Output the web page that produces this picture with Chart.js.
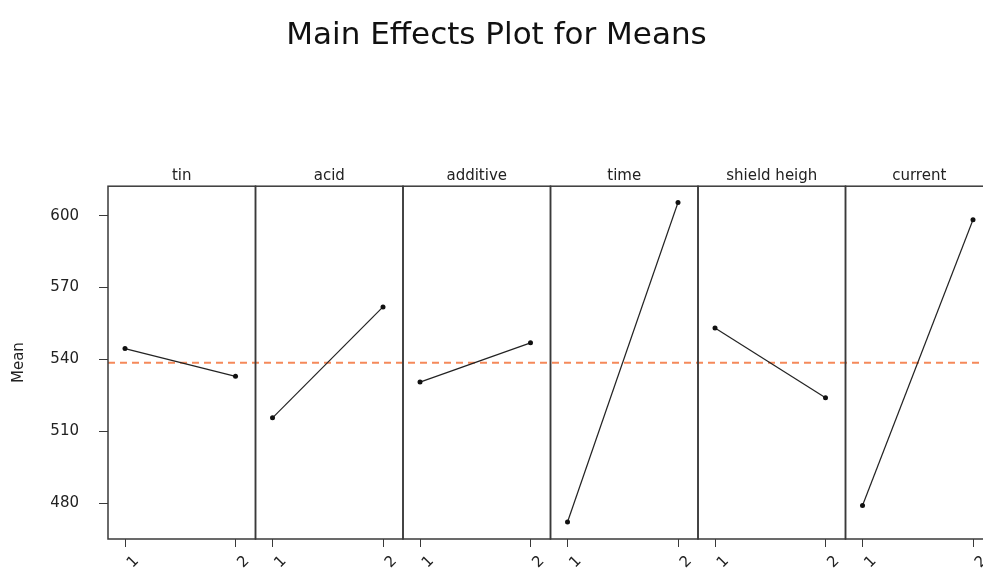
<!DOCTYPE html>
<html>
<head>
<meta charset="utf-8">
<title>Main Effects Plot for Means</title>
<script src="https://cdn.jsdelivr.net/npm/chart.js@4.4.1/dist/chart.umd.min.js"></script>
<style>
  html, body { margin: 0; padding: 0; background: #fff; overflow: hidden; }
  #wrap { width: 1000px; height: 568px; }
</style>
</head>
<body>
<div id="wrap"><canvas id="effects" width="1000" height="568"></canvas></div>
<script>
"use strict"

// factor names and level means
const factors = ['tin', 'acid', 'additive', 'time', 'shield heigh', 'current'];
const levels = [1, 2];
const tinMeans = [544.5, 532.9];
const acidMeans = [515.6, 561.9];
const additiveMeans = [530.5, 546.9];
const timeMeans = [472.1, 605.5];
const shieldMeans = [553.1, 524.0];
const currentMeans = [479.0, 598.3];
const meanTicks = [480, 510, 540, 570, 600];
const grandMean = 538.6;

const allMeans = [tinMeans, acidMeans, additiveMeans, timeMeans, shieldMeans, currentMeans];

Chart.defaults.font.family = "'DejaVu Sans', Verdana, sans-serif";
Chart.defaults.color = '#222';

const frameColor = '#3a3a3a';

let datasets = allMeans.map(function (means, i) {
    return {
        label: factors[i],
        xAxisID: 'x' + i,
        yAxisID: 'y',
        data: levels.map(function (lv, j) { return {x: lv, y: means[j]}; }),
        borderColor: '#222',
        borderWidth: 1.2,
        pointRadius: 2.5,
        pointBackgroundColor: '#111',
        pointBorderColor: '#111',
        pointBorderWidth: 0,
        tension: 0
    };
});

let scales = {
    y: {
        type: 'linear',
        position: 'left',
        min: 465,
        max: 612.3,
        afterBuildTicks: function (scale) {
            scale.ticks = meanTicks.map(function (v) { return {value: v}; });
        },
        afterFit: function (scale) { scale.width = 108; },
        ticks: { font: {size: 15}, color: '#222', padding: 20 },
        grid: { drawOnChartArea: false, tickLength: 9, color: frameColor, lineWidth: 1 },
        border: { display: false },
        title: { display: true, text: 'Mean', font: {size: 15}, color: '#222', padding: {top: 10} }
    }
};

factors.forEach(function (name, i) {
    scales['x' + i] = {
        type: 'linear',
        position: 'bottom',
        stack: 'panels',
        stackWeight: 1,
        min: 0.846,
        max: 2.181,
        afterBuildTicks: function (scale) {
            scale.ticks = levels.map(function (v) { return {value: v}; });
        },
        afterFit: function (scale) { scale.height = 27; },
        ticks: { display: false },
        grid: { drawOnChartArea: false, tickLength: 8, color: frameColor, lineWidth: 1 },
        border: { display: false }
    };
});

// panel frames, reference line, panel headers and rotated level labels
const panelPlugin = {
    id: 'panels',
    beforeDatasetsDraw: function (chart) {
        const ctx = chart.ctx;
        const area = chart.chartArea;
        const yPix = chart.scales.y.getPixelForValue(grandMean);
        ctx.save();
        ctx.strokeStyle = '#f5895a';
        ctx.lineWidth = 2;
        ctx.setLineDash([7, 5]);
        ctx.beginPath();
        ctx.moveTo(area.left, yPix);
        ctx.lineTo(area.right, yPix);
        ctx.stroke();
        ctx.restore();
    },
    afterDraw: function (chart) {
        const ctx = chart.ctx;
        const area = chart.chartArea;
        ctx.save();
        ctx.strokeStyle = frameColor;
        ctx.lineWidth = 1.5;
        factors.forEach(function (name, i) {
            const sc = chart.scales['x' + i];
            ctx.strokeRect(sc.left, area.top, sc.right - sc.left, area.bottom - area.top);

            ctx.fillStyle = '#222';
            ctx.font = "15px 'DejaVu Sans'";
            ctx.textAlign = 'center';
            ctx.textBaseline = 'alphabetic';
            ctx.fillText(name, (sc.left + sc.right) / 2, area.top - 6);

            sc.ticks.forEach(function (t) {
                const px = sc.getPixelForValue(t.value);
                ctx.save();
                ctx.translate(px + 8, area.bottom + 23);
                ctx.rotate(-Math.PI / 4);
                ctx.textAlign = 'center';
                ctx.textBaseline = 'middle';
                ctx.fillText(String(t.value), 0, 0);
                ctx.restore();
            });
        });
        ctx.restore();
    }
};

let ctx = document.getElementById('effects');
let effectsChart = new Chart(ctx, {
    type: 'line',
    data: { datasets: datasets },
    options: {
        responsive: false,
        animation: false,
        devicePixelRatio: 1,
        layout: { padding: {left: 0, right: 7, top: 0, bottom: 0} },
        scales: scales,
        plugins: {
            legend: { display: false },
            tooltip: { enabled: false },
            title: {
                display: true,
                text: 'Main Effects Plot for Means',
                color: '#111',
                font: {size: 31, weight: 'normal'},
                padding: {top: 17, bottom: 132}
            }
        }
    },
    plugins: [panelPlugin]
});
</script>
</body>
</html>
